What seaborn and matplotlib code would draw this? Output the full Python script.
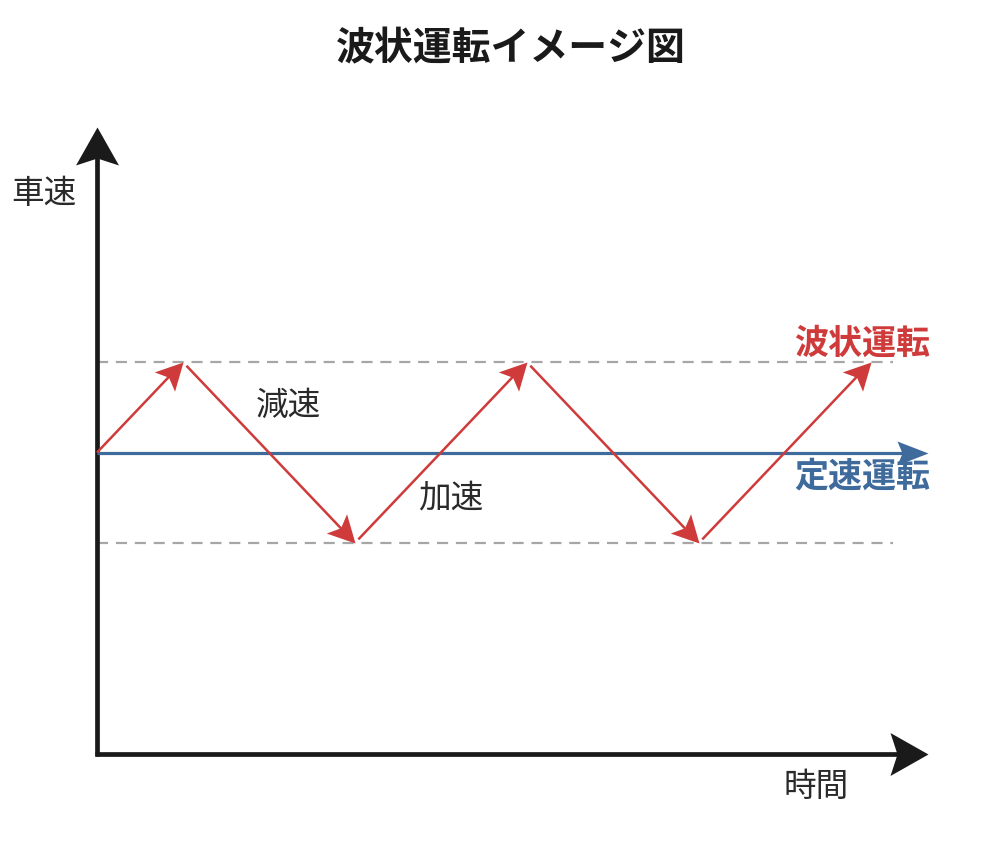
import numpy as np
import pandas as pd
import matplotlib
matplotlib.use("Agg")
import matplotlib.pyplot as plt
from matplotlib.path import Path
from matplotlib.markers import MarkerStyle
from matplotlib.transforms import Affine2D
import seaborn as sns

# データ
times = [0, 1, 3, 5, 7, 9]          # 波状運転の折り返し時刻
speeds = [10, 13, 7, 13, 7, 13]     # 折り返し時の車速
const_speed = 10                    # 定速運転の車速
upper_speed = 13
lower_speed = 7
band_end = 9.26                     # 破線の終わり
blue_end = 9.66
x_end = 9.66
y_end = 20.78

title = "波状運転イメージ図"
label_x = "時間"
label_y = "車速"
label_dec = "減速"
label_acc = "加速"
label_wave = "波状運転"
label_const = "定速運転"

RED = "#CF3A3A"
BLUE = "#3F6A9C"
GRAY = "#A6A6A6"
BLACK = "#1A1A1A"

sns.set_theme(style="white")
plt.rcParams["font.family"] = ["Noto Sans CJK JP", "DejaVu Sans"]

fig = plt.figure(figsize=(9.92, 8.54), dpi=100)
ax = fig.add_axes([0, 0, 1, 1])
ax.set_axis_off()
ax.set_xlim(-1.128, 10.41)
ax.set_ylim(-3.28, 25.04)


def stealth_arrow(p0, p1, color, lw, length, width, notch, gap=0):
    """矢印 (長さ・幅はピクセル)"""
    d0 = ax.transData.transform(p0)
    d1 = ax.transData.transform(p1)
    v = d1 - d0
    u = v / np.hypot(*v)
    ang = np.arctan2(v[1], v[0])
    s = d0 + u * gap
    e = d1 - u * (length - notch) * 0.95
    (sx, sy), (ex, ey) = ax.transData.inverted().transform([s, e])
    seg = pd.DataFrame({"x": [sx, ex], "y": [sy, ey]})
    sns.lineplot(data=seg, x="x", y="y", ax=ax, color=color, lw=lw,
                 sort=False, estimator=None, legend=False,
                 solid_capstyle="butt")
    head = Path([(0, 0), (-length, width / 2), (-length + notch, 0),
                 (-length, -width / 2), (0, 0)],
                [Path.MOVETO, Path.LINETO, Path.LINETO, Path.LINETO, Path.CLOSEPOLY])
    m = MarkerStyle(head, transform=Affine2D().rotate(ang))
    ms = 2 * length * 72 / fig.dpi
    ax.plot([p1[0]], [p1[1]], marker=m, markersize=ms, color=color,
            markeredgewidth=0, linestyle="none")


# 上限・下限の破線
bands = pd.DataFrame({
    "t": [0, band_end, 0, band_end],
    "v": [upper_speed, upper_speed, lower_speed, lower_speed],
    "kind": ["upper", "upper", "lower", "lower"],
})
for k, g in bands.groupby("kind"):
    sns.lineplot(data=g, x="t", y="v", ax=ax, color=GRAY, lw=1.6,
                 linestyle=(0, (5, 3.5)), legend=False)

# 軸
stealth_arrow((0, -0.07), (0, y_end), BLACK, 3.4, 38, 43, 7)
stealth_arrow((-0.02, 0), (x_end, 0), BLACK, 3.4, 38, 43, 7)

# 定速運転
stealth_arrow((0, const_speed), (blue_end, const_speed), BLUE, 2.3, 31, 24, 5)

# 波状運転
for i in range(len(times) - 1):
    stealth_arrow((times[i], speeds[i]), (times[i + 1], speeds[i + 1]), RED, 1.8,
                  27, 28, 6, gap=0 if i == 0 else 5)

# テキスト
fig.text(511 / 992, 1 - 49 / 854, title, ha="center", va="center",
         fontsize=28, fontweight="bold", color=BLACK)
ax.text(-0.617, 18.6, label_y, ha="center", va="center", fontsize=23.5, color="#2a2a2a")
ax.text(8.37, -1.07, label_x, ha="center", va="center", fontsize=23.5, color="#2a2a2a")
ax.text(2.23, 11.58, label_dec, ha="center", va="center", fontsize=23.5, color="#2a2a2a")
ax.text(4.12, 8.52, label_acc, ha="center", va="center", fontsize=23.5, color="#2a2a2a")
ax.text(9.69, 13.66, label_wave, ha="right", va="center", fontsize=24.5,
        fontweight="bold", color=RED)
ax.text(9.69, 9.25, label_const, ha="right", va="center", fontsize=24.5,
        fontweight="bold", color=BLUE)

fig.savefig("out.png", dpi=100, facecolor="white")
